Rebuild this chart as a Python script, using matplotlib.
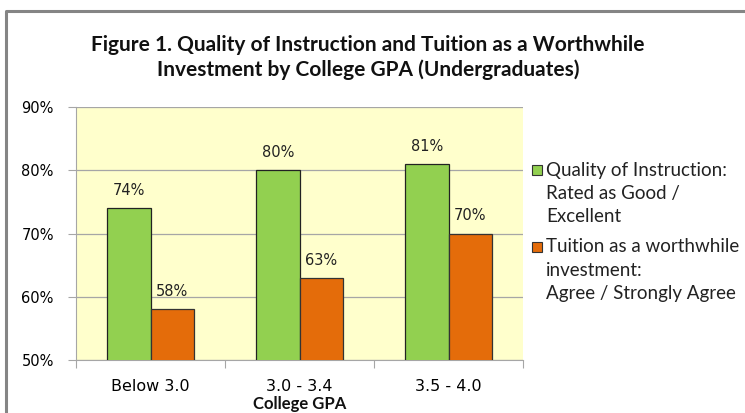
import matplotlib
matplotlib.use("Agg")
import matplotlib.pyplot as plt
from matplotlib.lines import Line2D
from matplotlib.patches import Rectangle
import numpy as np

categories = ["Below 3.0", "3.0 - 3.4", "3.5 - 4.0"]
quality = [74, 80, 81]
tuition = [58, 63, 70]
series_names = ["Quality of Instruction:\nRated as Good /\nExcellent",
                "Tuition as a worthwhile\ninvestment:\nAgree / Strongly Agree"]
yticks = [50, 60, 70, 80, 90]

green = "#92D050"
orange = "#E46C0A"

W, H = 745, 413
fig = plt.figure(figsize=(W / 100, H / 100), dpi=100)
fig.patch.set_facecolor("white")

# chart frame (gray border on left and top)
fig.add_artist(Line2D([6 / W, 6 / W, 1], [0, 1 - 11 / H, 1 - 11 / H],
                      transform=fig.transFigure, color="#858585", lw=2.2))

ax = fig.add_axes([76 / W, (H - 360) / H, 447 / W, 253 / H])
ax.set_facecolor("#FFFFCC")

x = np.arange(len(categories))
w = 0.29
b1 = ax.bar(x - w / 2, quality, w, color=green, edgecolor="#222222", lw=0.9, zorder=3)
b2 = ax.bar(x + w / 2, tuition, w, color=orange, edgecolor="#333333", lw=0.9, zorder=3)

for rects, vals in [(b1, quality), (b2, tuition)]:
    for r, v in zip(rects, vals):
        ax.text(r.get_x() + r.get_width() / 2, v + 2.8, f"{v}%", ha="center",
                va="center", fontsize=10.5, color="#222222", family="DejaVu Sans")

ax.set_xlim(-0.5, 2.5)
ax.set_ylim(50, 90)
ax.set_yticks(yticks)
ax.set_yticklabels([f"{t}%" for t in yticks], fontsize=10.5, family="DejaVu Sans")
ax.yaxis.grid(True, color="#A6A6A6", lw=0.9, zorder=0)
ax.set_axisbelow(True)

ax.set_xticks([-0.5, 0.5, 1.5, 2.5])
ax.set_xticklabels([])
ax.set_xticks(x, minor=True)
ax.set_xticklabels(categories, minor=True, fontsize=11.5, family="DejaVu Sans")
ax.tick_params(axis="x", which="minor", length=0, pad=14)
ax.tick_params(axis="x", which="major", length=6, color="#A6A6A6")
ax.tick_params(axis="y", length=6, color="#A6A6A6", pad=10)

for s in ["top", "right"]:
    ax.spines[s].set_visible(False)
ax.spines["left"].set_color("#A6A6A6")
ax.spines["bottom"].set_color("#A6A6A6")

fig.text(300 / W, 1 - 404 / H, "College GPA", ha="center", va="center",
         fontsize=12, fontweight="bold", family="Lato", color="#111111")

fig.text(368 / W, 1 - 57.5 / H,
         "Figure 1. Quality of Instruction and Tuition as a Worthwhile\n"
         "Investment by College GPA (Undergraduates)",
         ha="center", va="center", fontsize=15, fontweight="bold",
         family="Lato", linespacing=1.3, color="#111111")

# legend drawn by hand so the swatch sits by the first text line
for name, col, y0 in [(series_names[0], green, 170), (series_names[1], orange, 247)]:
    fig.add_artist(Rectangle((532 / W, 1 - (y0 + 5) / H), 10 / W, 10 / H,
                             transform=fig.transFigure, facecolor=col,
                             edgecolor="#333333", lw=0.8))
    for i, line in enumerate(name.split("\n")):
        fig.text(546 / W, 1 - (y0 + 23 * i) / H, line, ha="left", va="center",
                 fontsize=13.5, family="Lato", color="#222222")

fig.savefig("out.png", dpi=100)
